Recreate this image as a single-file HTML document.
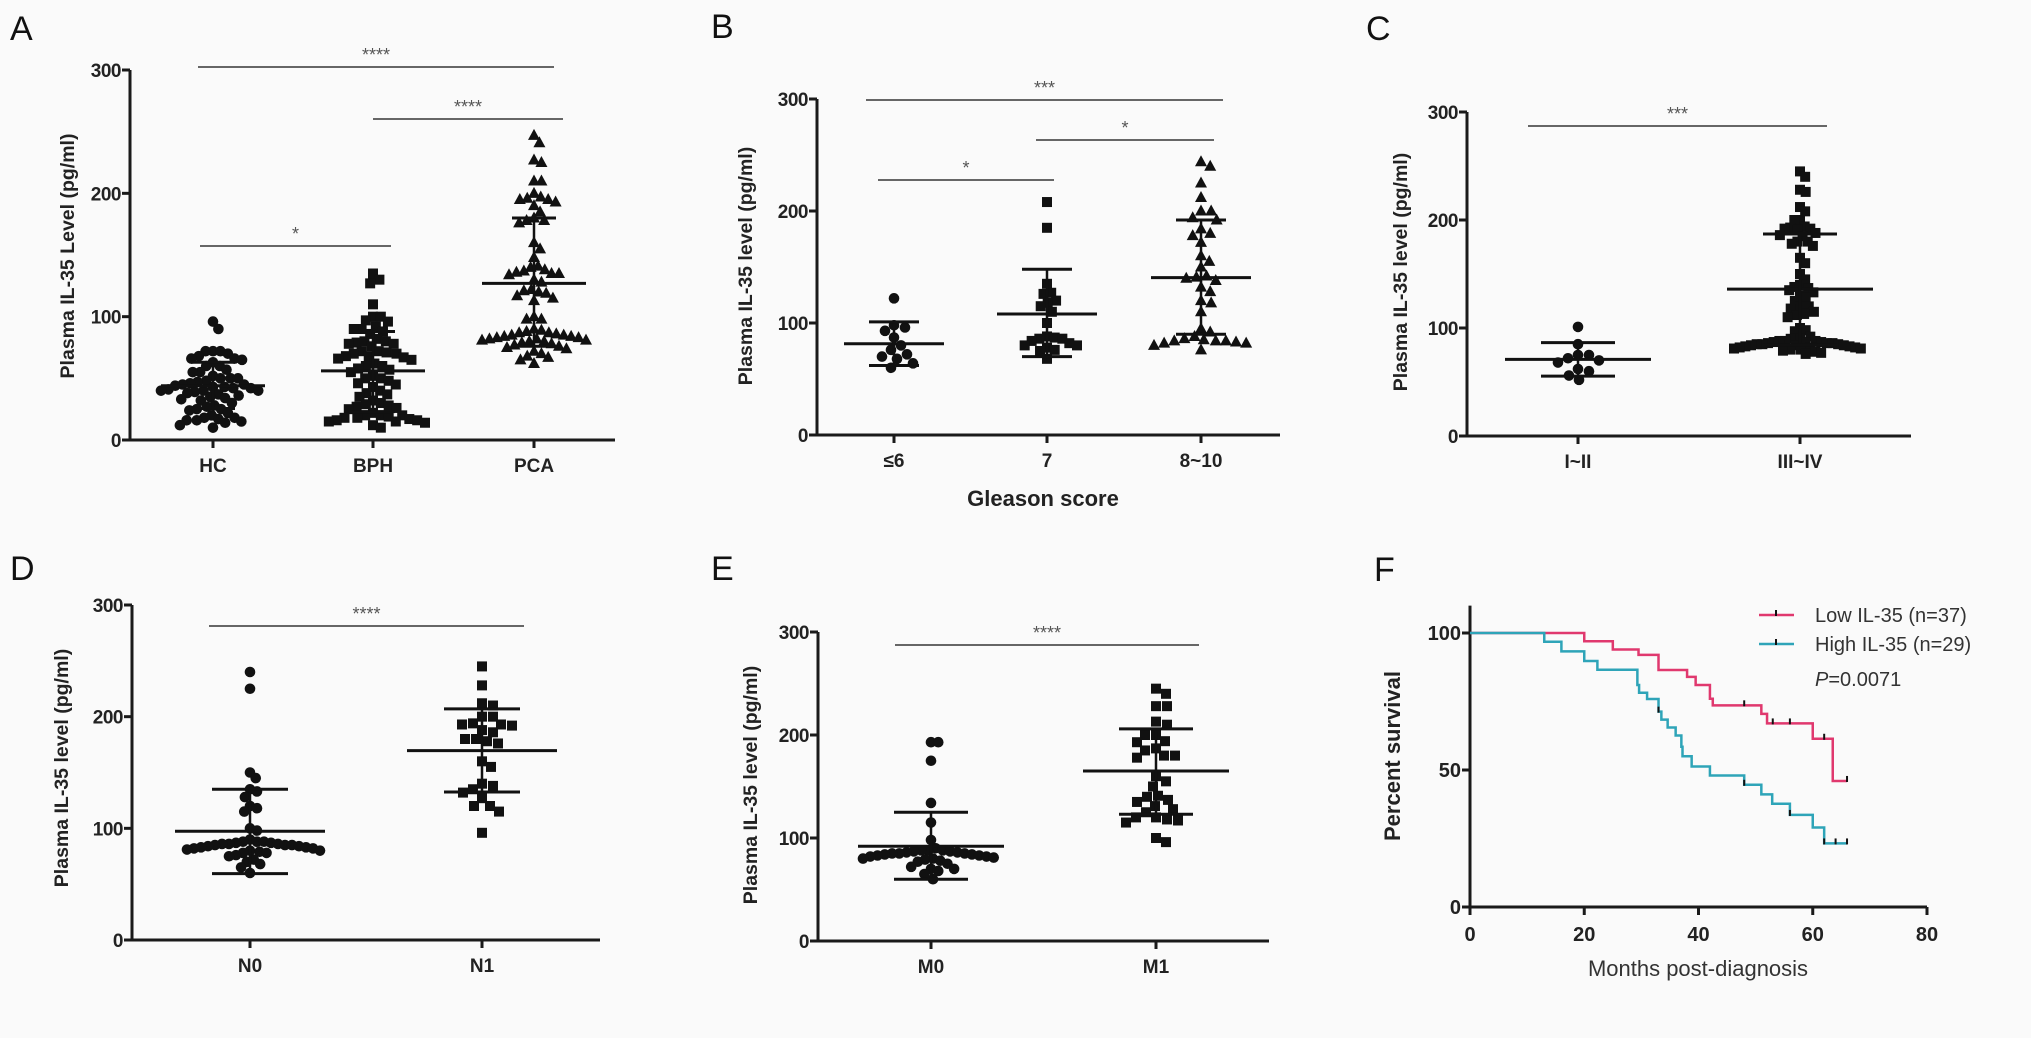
<!DOCTYPE html>
<html><head><meta charset="utf-8"><style>
html,body{margin:0;padding:0;background:#fafafa;}
svg{display:block;font-family:"Liberation Sans",Arial,sans-serif;}
</style></head><body>
<svg id="fig" width="2031" height="1038" viewBox="0 0 2031 1038" xmlns="http://www.w3.org/2000/svg">
<rect x="0" y="0" width="2031" height="1038" fill="#fafafa"/>
</svg>
<script>
// ---------- Data ----------
const catsA=['HC','BPH','PCA'];
const valsA_HC=[96,90,72,72,72,70,68,66,66,65,63,60,60,57,55,55,52,50,50,50,48,47,46,45,45,44,43,43,42,42,41,40,40,40,39,38,37,36,35,34,33,32,30,28,27,25,25,24,22,20,18,18,17,16,16,15,14,12,10];
const valsA_BPH=[135,130,127,110,100,100,97,96,92,90,90,88,86,82,80,80,79,78,78,76,72,72,71,70,70,68,68,67,66,65,62,60,60,58,57,55,52,50,50,48,46,45,43,40,38,37,35,32,30,29,28,27,26,25,22,20,20,20,19,18,18,17,16,16,15,15,14,12,10];
const valsA_PCA=[247,241,227,225,210,210,200,197,196,195,195,193,190,185,180,178,178,176,160,155,148,141,140,138,137,136,135,135,134,130,128,122,121,120,119,117,115,113,100,98,98,90,89,88,87,87,86,85,85,84,84,83,83,82,82,81,81,80,80,79,78,77,76,75,74,72,70,68,67,65,62];
const meansA=[44,56,127], sdLoA=[25.5,23,76], sdHiA=[63,88,180];

const catsB=['≤6','7','8~10'];
const valsB_1=[122,98,96,93,87,80,76,72,70,68,64,60];
const valsB_2=[208,185,135,127,126,120,118,115,110,100,88,87,86,86,84,82,80,80,78,76,75,68];
const valsB_3=[244,240,225,212,200,200,194,192,184,180,178,172,160,155,150,142,141,140,138,132,128,120,118,110,95,92,88,86,85,84,84,84,83,82,82,80,76];
const meansB=[81.5,108,140.5], sdLoB=[62,70,90], sdHiB=[101,148,192];

const catsC=['I~II','III~IV'];
const valsC_1=[101,85,75,75,72,70,68,62,60,56,52];
const valsC_2=[245,240,228,226,212,208,200,200,194,193,192,192,191,188,186,185,180,180,178,176,165,160,150,145,140,138,137,135,133,130,128,125,120,120,118,115,113,112,110,100,98,97,92,90,90,88,88,88,87,87,87,86,86,86,85,85,85,84,84,84,83,83,82,82,82,81,81,80,80,79,78,77,76];
const meansC=[71,136], sdLoC=[55.4,84], sdHiC=[86.5,187];

const catsD=['N0','N1'];
const valsD_1=[240,225,150,145,135,133,128,120,118,115,100,98,90,88,88,88,87,87,86,86,86,85,85,85,84,84,83,83,82,82,81,80,80,79,78,78,76,75,72,70,68,65,60];
const valsD_2=[245,228,212,210,200,200,194,193,193,192,188,186,180,180,178,176,160,155,140,138,135,132,127,120,120,115,96];
const meansD=[97.4,169.6], sdLoD=[59.4,132.5], sdHiD=[135,207];

const catsE=['M0','M1'];
const valsE_1=[193,193,175,134,115,98,90,88,88,88,87,87,86,86,85,85,85,84,84,83,83,82,82,81,80,80,79,78,77,75,72,70,70,68,65,60];
const valsE_2=[245,240,228,228,213,210,200,200,194,193,187,185,180,180,178,160,155,150,141,140,137,135,131,128,125,120,120,118,117,115,100,96];
const meansE=[92,165], sdLoE=[60,123], sdHiE=[125,206];

const yTicks=[0,100,200,300];

const lowT=[0,20,25,29.5,33,38,39.5,42,42.5,51,52,60,63.5,66];
const lowS=[100,97,94,92,86.5,84,81,76,73.6,70.5,67,61.4,46,46];
const lowCens=[48,53,56,62,66];
const highT=[0,13,16,20,22.3,29.3,29.6,31,33,33.5,34.6,36,37,37.2,38.8,42,48,51,52.9,56,60,62,66];
const highS=[100,96.8,93.3,89.8,86.6,81,78.2,75.9,71.3,68.4,65.5,62.6,58.5,55,51.3,48,44.6,41.1,37.7,33.6,29,23.2,23.2];
const highCens=[33,48,56,62,64,66];
const fXTicks=[0,20,40,60,80];
const fYTicks=[0,50,100];

// ---------- Helpers ----------
const NS='http://www.w3.org/2000/svg';
const svg=document.getElementById('fig');
function mk(tag,attrs,parent,txt){const e=document.createElementNS(NS,tag);for(const k in attrs)e.setAttribute(k,attrs[k]);if(txt!==undefined)e.textContent=txt;(parent||svg).appendChild(e);return e;}

function swarm(vals,yf,d,maxW){
  const placed=[];const sorted=vals.slice().sort((a,b)=>b-a);
  for(const v of sorted){const y=yf(v);let off=0;
    for(let k=0;k<400;k++){const c=(k%2?1:-1)*Math.ceil(k/2);
      let ok=true;for(const p of placed){const dx=p.x-c,dy=p.y-y;if(dx*dx+dy*dy<d*d){ok=false;break;}}
      if(ok){off=c;break;}}
    placed.push({x:off,y:y,v:v});}
  let mx=0;placed.forEach(p=>{mx=Math.max(mx,Math.abs(p.x));});
  if(mx>maxW){const f=maxW/mx;placed.forEach(p=>{p.x*=f;});}
  return placed;
}

function dotPlot(cfg){
  const g=mk('g',{});
  
  
  const yf=v=>cfg.y0-(v/300)*(cfg.y0-cfg.y300);
  const L=mk('text',{x:cfg.lx,y:cfg.ly,'font-size':34,fill:'#111'},g,cfg.letter);
  
  
  const ya=mk('line',{x1:cfg.x0,y1:cfg.y300,x2:cfg.x0,y2:cfg.y0+1.5,stroke:'#1a1a1a','stroke-width':3},g);
  
  const xa=mk('line',{x1:cfg.x0-8,y1:cfg.y0,x2:cfg.xr,y2:cfg.y0,stroke:'#1a1a1a','stroke-width':3},g);
  
  yTicks.forEach(t=>{const y=yf(t);
    mk('line',{x1:cfg.x0-8,y1:y,x2:cfg.x0,y2:y,stroke:'#1a1a1a','stroke-width':3},g);
    const tl=mk('text',{x:cfg.x0-9,y:y+7,'text-anchor':'end','font-size':19,'font-weight':'bold',fill:'#222','letter-spacing':'-0.5'},g,String(t));
    });
  cfg.cats.forEach((c,i)=>{const x=cfg.catX[i];
    mk('line',{x1:x,y1:cfg.y0,x2:x,y2:cfg.y0+8,stroke:'#1a1a1a','stroke-width':3},g);
    const tl=mk('text',{x:x,y:cfg.y0+32,'text-anchor':'middle','font-size':19,'font-weight':'bold',fill:'#222'},g,c);
    });
  const yl=mk('text',{x:cfg.ylx,y:cfg.yly,'text-anchor':'middle','font-size':19.5,'font-weight':'bold',fill:'#222',transform:`rotate(-90 ${cfg.ylx} ${cfg.yly})`},g,cfg.ytitle);
  
  if(cfg.xtitle){const xt=mk('text',{x:cfg.xtx,y:cfg.xty,'text-anchor':'middle','font-size':22,'font-weight':'bold',fill:'#222'},g,cfg.xtitle);
    }
  cfg.groups.forEach((vals,i)=>{const cx=cfg.catX[i];const sh=cfg.shapes[i];
    const pts=swarm(vals,yf,10.5,cfg.maxW[i]);
    pts.forEach(p=>{const x=cx+p.x,y=p.y;let m;
      if(sh==='circle')m=mk('circle',{cx:x,cy:y,r:5.3,fill:'#111'},g);
      else if(sh==='square')m=mk('rect',{x:x-5,y:y-5,width:10,height:10,fill:'#111'},g);
      else m=mk('polygon',{points:`${x},${y-6.5} ${x+6},${y+4.5} ${x-6},${y+4.5}`,fill:'#111'},g);
      
      });
    const ym=yf(cfg.means[i]),ylo=yf(cfg.sdLo[i]),yhi=yf(cfg.sdHi[i]);
    const ml=mk('line',{x1:cx-cfg.mw,y1:ym,x2:cx+cfg.mw,y2:ym,stroke:'#111','stroke-width':3},g);
    
    mk('line',{x1:cx,y1:yhi,x2:cx,y2:ylo,stroke:'#111','stroke-width':2.5},g);
    mk('line',{x1:cx-cfg.cw,y1:yhi,x2:cx+cfg.cw,y2:yhi,stroke:'#111','stroke-width':3},g);
    mk('line',{x1:cx-cfg.cw,y1:ylo,x2:cx+cfg.cw,y2:ylo,stroke:'#111','stroke-width':3},g);
  });
  cfg.sig.forEach(s=>{const sl=mk('line',{x1:s[0],y1:s[2],x2:s[1],y2:s[2],stroke:'#666','stroke-width':2},g);
    
    const st=mk('text',{x:(s[0]+s[1])/2,y:s[2]-6,'text-anchor':'middle','font-size':18,fill:'#555'},g,s[3]);
    });
}

dotPlot({name:'panel-a',letter:'A',lx:10,ly:40,x0:130,xr:615,y0:440,y300:70,catX:[213,373,534],cats:catsA,
  groups:[valsA_HC,valsA_BPH,valsA_PCA],shapes:['circle','square','triangle'],maxW:[52,52,52],means:meansA,sdLo:sdLoA,sdHi:sdHiA,mw:52,cw:22,
  ylx:74,yly:256,ytitle:'Plasma IL-35 Level (pg/ml)',
  sig:[[198,554,67,'****'],[373,563,119,'****'],[200,391,246,'*']]});
dotPlot({name:'panel-b',letter:'B',lx:711,ly:38,x0:817,xr:1280,y0:435,y300:99,catX:[894,1047,1201],cats:catsB,
  groups:[valsB_1,valsB_2,valsB_3],shapes:['circle','square','triangle'],maxW:[22,30,47],means:meansB,sdLo:sdLoB,sdHi:sdHiB,mw:50,cw:25,
  ylx:752,yly:266,ytitle:'Plasma IL-35 level (pg/ml)',xtitle:'Gleason score',xtx:1043,xty:506,
  sig:[[866,1223,100,'***'],[1036,1214,140,'*'],[878,1054,180,'*']]});
dotPlot({name:'panel-c',letter:'C',lx:1366,ly:40,x0:1467,xr:1911,y0:436,y300:112,catX:[1578,1800],cats:catsC,
  groups:[valsC_1,valsC_2],shapes:['circle','square'],maxW:[22,66],means:meansC,sdLo:sdLoC,sdHi:sdHiC,mw:73,cw:37,
  ylx:1407,yly:272,ytitle:'Plasma IL-35 level (pg/ml)',
  sig:[[1528,1827,126,'***']]});
dotPlot({name:'panel-d',letter:'D',lx:10,ly:580,x0:132,xr:600,y0:940,y300:605,catX:[250,482],cats:catsD,
  groups:[valsD_1,valsD_2],shapes:['circle','square'],maxW:[70,36],means:meansD,sdLo:sdLoD,sdHi:sdHiD,mw:75,cw:38,
  ylx:68,yly:768,ytitle:'Plasma IL-35 level (pg/ml)',
  sig:[[209,524,626,'****']]});
dotPlot({name:'panel-e',letter:'E',lx:711,ly:580,x0:818,xr:1269,y0:941,y300:632,catX:[931,1156],cats:catsE,
  groups:[valsE_1,valsE_2],shapes:['circle','square'],maxW:[68,36],means:meansE,sdLo:sdLoE,sdHi:sdHiE,mw:73,cw:37,
  ylx:757,yly:785,ytitle:'Plasma IL-35 level (pg/ml)',
  sig:[[895,1199,645,'****']]});

// ---------- Panel F survival ----------
(function(){
  const g=mk('g',{});
  
  
  const X0=1470,X80=1927,Y0=907,Y100=633;
  const xf=t=>X0+t/80*(X80-X0), yf=p=>Y0-p/100*(Y0-Y100);
  const L=mk('text',{x:1374,y:581,'font-size':34,fill:'#111'},g,'F');
  
  const ya=mk('line',{x1:X0,y1:yf(110),x2:X0,y2:Y0+1.5,stroke:'#1a1a1a','stroke-width':3},g);
  
  const xa=mk('line',{x1:X0-8,y1:Y0,x2:X80,y2:Y0,stroke:'#1a1a1a','stroke-width':3},g);
  
  fYTicks.forEach(t=>{const y=yf(t);mk('line',{x1:X0-8,y1:y,x2:X0,y2:y,stroke:'#1a1a1a','stroke-width':3},g);
    const tl=mk('text',{x:X0-9,y:y+7,'text-anchor':'end','font-size':20,'font-weight':'bold',fill:'#222'},g,String(t));
    });
  fXTicks.forEach(t=>{const x=xf(t);mk('line',{x1:x,y1:Y0,x2:x,y2:Y0+8,stroke:'#1a1a1a','stroke-width':3},g);
    const tl=mk('text',{x:x,y:Y0+34,'text-anchor':'middle','font-size':20,'font-weight':'bold',fill:'#222'},g,String(t));
    });
  const xt=mk('text',{x:1698,y:976,'text-anchor':'middle','font-size':22,fill:'#333'},g,'Months post-diagnosis');
  
  const yt=mk('text',{x:1400,y:756,'text-anchor':'middle','font-size':22,'font-weight':'bold',fill:'#222',transform:'rotate(-90 1400 756)'},g,'Percent survival');
  
  function stepAt(T,S,t){let s=S[0];for(let i=0;i<T.length;i++){if(T[i]<=t)s=S[i];}return s;}
  function curve(T,S,C,color,name){
    let d=`M${xf(T[0])},${yf(S[0])}`;
    for(let i=1;i<T.length;i++){d+=` H${xf(T[i])} V${yf(S[i])}`;}
    const p=mk('path',{d:d,fill:'none',stroke:color,'stroke-width':2.5},g);
    
    C.forEach(t=>{const x=xf(t),y=yf(stepAt(T,S,t));
      const c=mk('line',{x1:x,y1:y-5,x2:x,y2:y+1,stroke:'#111','stroke-width':2},g);
      });
  }
  curve(lowT,lowS,lowCens,'#e0386e','low-il35-curve');
  curve(highT,highS,highCens,'#2ea4b8','high-il35-curve');
  const lg=mk('g',{},g);
  [['#e0386e','Low IL-35 (n=37)',615],['#2ea4b8','High IL-35 (n=29)',644]].forEach(e=>{
    const ln=mk('line',{x1:1759,y1:e[2],x2:1794,y2:e[2],stroke:e[0],'stroke-width':2.5},lg);
    
    mk('line',{x1:1776,y1:e[2]-5,x2:1776,y2:e[2]+1,stroke:'#111','stroke-width':2},lg);
    const tx=mk('text',{x:1815,y:e[2]+7,'font-size':20,fill:'#333'},lg,e[1]);
    });
  const pv=mk('text',{x:1815,y:686,'font-size':20,fill:'#333'},lg);
  
  mk('tspan',{'font-style':'italic'},pv,'P');
  mk('tspan',{},pv,'=0.0071');
})();
</script>
</body></html>
